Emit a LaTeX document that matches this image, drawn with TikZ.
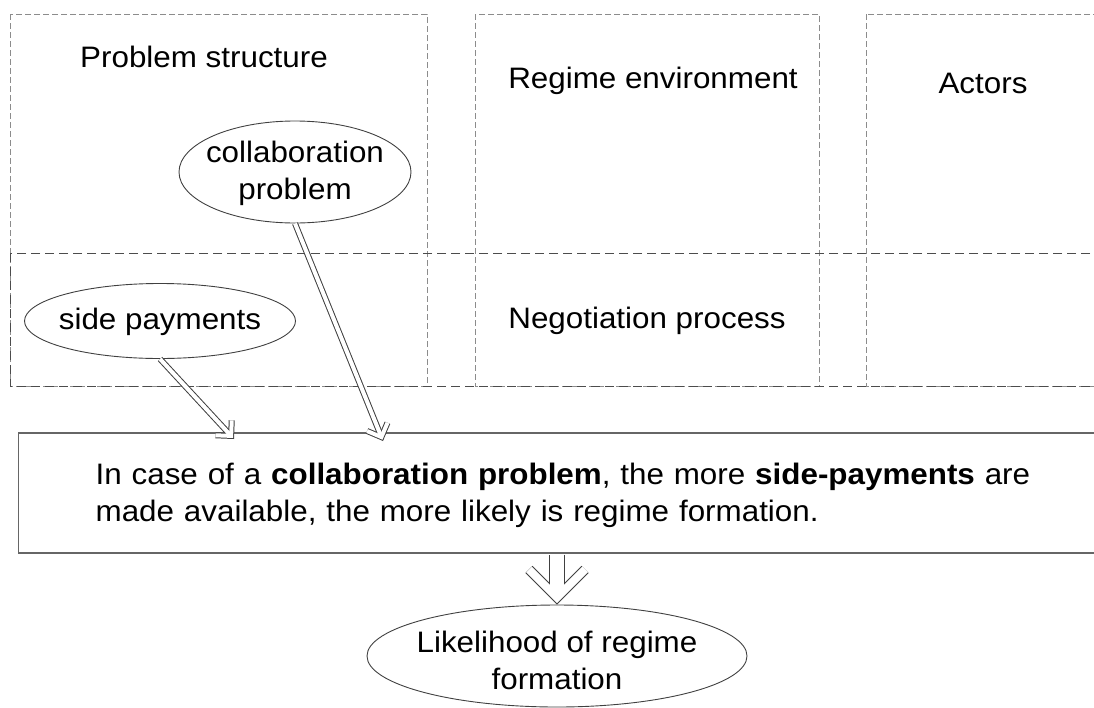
\documentclass[tikz,border=0pt]{standalone}
\usepackage{fontspec}
\setmainfont{Liberation Sans}[FakeStretch=1.06]
\usetikzlibrary{shapes.geometric,arrows.meta}

\tikzset{
  colbox/.style={draw=black!45, line width=0.8pt, dash pattern=on 6pt off 3pt},
  rowbox/.style={draw=black!70, line width=1pt, dash pattern=on 9pt off 5pt},
  oval/.style={draw=black!75, line width=0.9pt, ellipse, inner sep=0pt},
  rulebox/.style={draw=black!60, line width=1.3pt, rectangle},
  thinarrow/.style={draw=black!75, line width=6pt, -{Straight Barb[length=11pt, width=22pt]},
    postaction={draw=white, line width=4pt, shorten >=1.4pt, -{Straight Barb[length=11pt, width=22pt]}}},
  fatarrow/.style={draw=black!75, line width=16pt, -{Straight Barb[length=28pt, width=56pt, line width=10pt 0]},
    postaction={draw=white, line width=14pt, shorten >=1.4pt, -{Straight Barb[length=28pt, width=56pt, line width=8pt 0]}}},
}

\begin{document}
\begin{tikzpicture}[x=1pt, y=-1pt, font=\fontsize{29.6}{37}\selectfont]
  \clip (0,0) rectangle (1094,707);

  % columns and the negotiation row
  \draw[colbox] (10,14) rectangle (427,386);
  \draw[colbox] (475,14) rectangle (819,386);
  \draw[colbox] (866,14) rectangle (1110,386);
  \draw[rowbox] (10,253) rectangle (1110,386);

  \node[anchor=base] (ps) at (204,67) {Problem structure};
  \node[anchor=base] (re) at (653,88) {Regime environment};
  \node[anchor=base] (ac) at (983,93) {Actors};
  \node[anchor=base] (np) at (647,328) {Negotiation process};

  % variables
  \node[oval, minimum width=232pt, minimum height=102pt] (collab) at (295,172) {};
  \node[align=center] (collabtxt) at (295,173) {collaboration\\problem};
  \node[oval, minimum width=271pt, minimum height=75pt] (sidepay) at (160,321) {};
  \node (sidepaytxt) at (160,322) {side payments};

  % hypothesis
  \node[rulebox, anchor=west, minimum height=120pt, inner xsep=77pt, text width=1000pt, align=left] (rule) at (18,493)
    {\rule{0pt}{27pt}In case of a \textbf{collaboration problem}, the more \textbf{side-payments} are\\made available, the more likely is regime formation.};

  \node[oval, minimum width=380pt, minimum height=102pt] (likely) at (557,656) {};
  \node[align=center] (likelytxt) at (557,660) {Likelihood of regime\\formation};

  % arrows
  \coordinate (spend) at (234,439);
  \coordinate (coend) at (383,441);
  \draw[thinarrow] (sidepay.south) -- (spend);
  \draw[thinarrow] (collab.south) -- (coend);
  \draw[fatarrow, shorten <=1pt] (likely.north |- rule.south) -- (likely.north);
\end{tikzpicture}
\end{document}
